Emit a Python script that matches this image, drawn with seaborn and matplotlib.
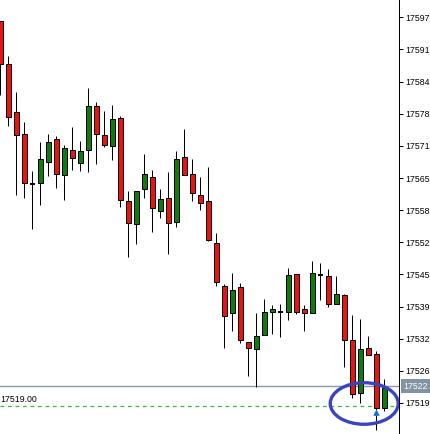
import matplotlib
matplotlib.use("Agg")
import matplotlib.pyplot as plt
from matplotlib.patches import Ellipse
import matplotlib.transforms as mtransforms
import numpy as np
import pandas as pd
import seaborn as sns

# ---- data ----
opens = [17596.2, 17587.5, 17577.9, 17573.3, 17563.3, 17563.5, 17567.8, 17572.4, 17565.1, 17570.2,
         17567.6, 17570.2, 17579.1, 17573.1, 17571.0, 17576.7, 17559.9, 17555.2, 17562.3, 17564.7,
         17557.8, 17560.5, 17555.6, 17568.8, 17565.3, 17561.1, 17559.9, 17551.4, 17542.6, 17537.2,
         17542.4, 17531.3, 17529.9, 17532.7, 17537.4, 17537.4, 17537.4, 17545.1, 17538.0, 17537.2,
         17544.9, 17544.7, 17539.0, 17540.8, 17531.7, 17521.1, 17530.1, 17529.0, 17517.9]
highs = [17596.2, 17589.1, 17581.8, 17575.9, 17566.0, 17571.8, 17573.5, 17572.9, 17571.2, 17574.9,
         17572.0, 17582.8, 17579.8, 17578.1, 17579.3, 17577.1, 17561.9, 17561.9, 17569.4, 17566.2,
         17562.3, 17565.8, 17570.0, 17574.5, 17568.4, 17564.7, 17566.8, 17553.4, 17543.0, 17545.3,
         17543.2, 17531.3, 17537.2, 17540.0, 17538.8, 17539.0, 17546.3, 17545.1, 17538.8, 17547.7,
         17547.3, 17546.1, 17544.7, 17541.0, 17536.7, 17535.9, 17532.5, 17529.6, 17523.8]
lows = [17581.2, 17575.1, 17561.1, 17560.5, 17554.2, 17559.1, 17564.9, 17562.5, 17560.1, 17566.2,
        17566.0, 17565.8, 17567.4, 17570.8, 17568.2, 17558.7, 17548.5, 17551.2, 17560.5, 17553.6,
        17556.4, 17549.1, 17554.6, 17565.1, 17559.9, 17558.0, 17551.8, 17542.6, 17530.1, 17533.5,
        17531.1, 17524.4, 17522.3, 17532.7, 17532.9, 17532.3, 17535.7, 17537.0, 17533.5, 17537.2,
        17539.8, 17538.4, 17539.0, 17526.2, 17520.1, 17519.1, 17528.8, 17513.6, 17517.3]
closes = [17587.5, 17576.9, 17573.1, 17563.5, 17563.3, 17568.4, 17571.8, 17565.3, 17570.6, 17568.6,
          17570.0, 17579.1, 17573.3, 17571.2, 17576.5, 17560.1, 17555.4, 17561.9, 17565.3, 17558.5,
          17560.3, 17555.4, 17568.4, 17565.1, 17561.5, 17559.5, 17552.0, 17543.4, 17536.5, 17541.8,
          17531.7, 17530.1, 17532.5, 17537.4, 17538.0, 17537.4, 17544.9, 17537.4, 17537.2, 17545.3,
          17544.9, 17539.0, 17541.0, 17531.7, 17520.9, 17529.9, 17528.8, 17517.9, 17522.1]

tick_values = [17519, 17525.5, 17532, 17538.5, 17545, 17551.5, 17558, 17564.5,
               17571, 17577.5, 17584, 17590.5, 17597]
tick_labels = ["17519", "17526", "17532", "17539", "17545", "17552", "17558", "17565",
               "17571", "17578", "17584", "17591", "17597"]

bid_level = 17522.4
bid_label = "17522"
order_level = 17518.3
order_label = "17519.00"

df = pd.DataFrame({"open": opens, "high": highs, "low": lows, "close": closes})
df["idx"] = np.arange(len(df))

sns.set_theme(style="white")
plt.rcParams["font.family"] = ["Liberation Sans", "DejaVu Sans"]

W, H = 430, 434
fig = plt.figure(figsize=(W / 100, H / 100), dpi=100)
ax = fig.add_axes([0, 0, 399 / W, 1])
ax.set_facecolor("white")

px = 0.72  # one pixel in points

# wicks
ax.vlines(df["idx"], df["low"], df["high"], color="black", lw=px, zorder=2)

# bodies
up = df["close"] > df["open"]
down = df["close"] < df["open"]
flat = df["close"] == df["open"]
bw = 0.62
ax.bar(df.loc[up, "idx"], df.loc[up, "close"] - df.loc[up, "open"], bottom=df.loc[up, "open"],
       width=bw, color="#0a7d0a", edgecolor="black", linewidth=px, zorder=3)
ax.bar(df.loc[down, "idx"], df.loc[down, "open"] - df.loc[down, "close"], bottom=df.loc[down, "close"],
       width=bw, color="#ee1111", edgecolor="black", linewidth=px, zorder=3)
ax.hlines(df.loc[flat, "open"], df.loc[flat, "idx"] - bw / 2, df.loc[flat, "idx"] + bw / 2,
          color="black", lw=1.4, zorder=3)

# price lines
ax.axhline(bid_level, color="#8899aa", lw=1.0, zorder=1)
ax.axhline(order_level, color="#33bb33", lw=0.9, ls=(0, (3, 3)), zorder=1)
ax.text(0.0, order_level + 0.5, order_label, fontsize=6.3, color="black",
        ha="left", va="bottom", zorder=4)

# marked area
last = len(df) - 1
ax.add_patch(Ellipse((last - 2.5, order_level + 0.6), 8.5, 8.4, fill=False,
                     edgecolor="#3a44c2", lw=2.4, zorder=5))
ax.scatter([last - 1], [lows[last - 1] + 3.6], marker="^", s=22, color="#1e73be", zorder=6,
           linewidths=0)
ax.vlines([last - 1], lows[last - 1] + 2.8, lows[last - 1] + 3.6, color="#1e73be", lw=1.6, zorder=6)

ax.set_xlim(-0.05, 49.85)
ax.set_ylim(17512.73, 17600.5)
ax.set_xticks([])
ax.yaxis.tick_right()
ax.set_yticks(tick_values)
ax.set_yticklabels(tick_labels)
ax.tick_params(axis="y", direction="out", length=3, width=px, pad=1.5, labelsize=6.3,
               colors="black", right=True, left=False)
for s in ["top", "left", "bottom"]:
    ax.spines[s].set_visible(False)
ax.spines["right"].set_color("black")
ax.spines["right"].set_linewidth(px)
ax.grid(False)

trans = mtransforms.blended_transform_factory(ax.transAxes, ax.transData)
ax.text(1.0 + 4 / 399, bid_level, bid_label, transform=trans, fontsize=6.3, color="white",
        ha="left", va="center", zorder=7, clip_on=False,
        bbox=dict(boxstyle="square,pad=0.25", facecolor="#8393a3", edgecolor="none"))

fig.savefig("out.png", dpi=100)
